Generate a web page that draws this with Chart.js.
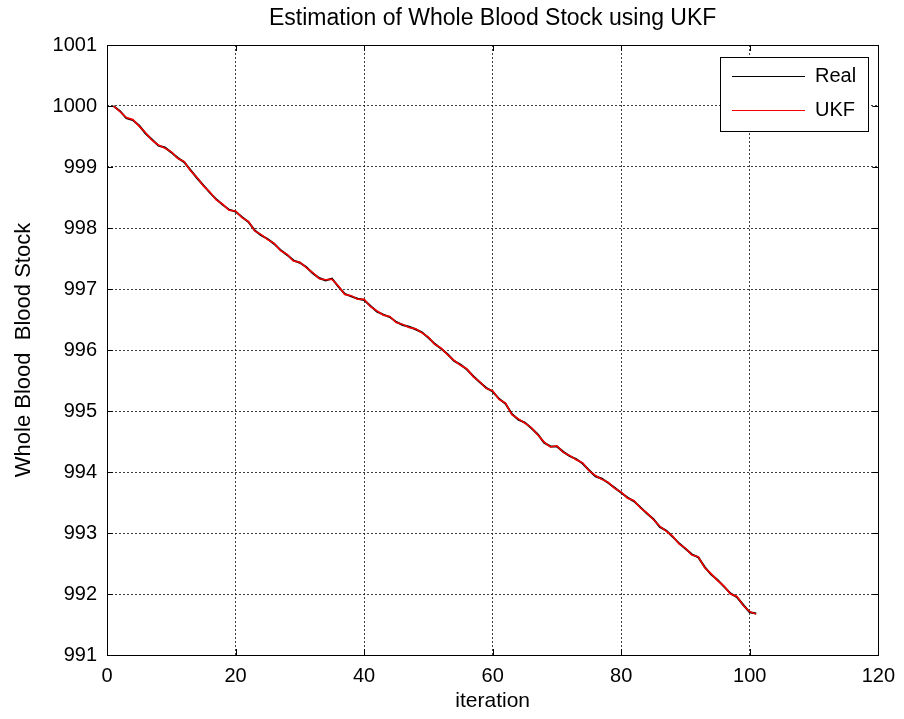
<!DOCTYPE html>
<html>
<head>
<meta charset="utf-8">
<script src="https://cdn.jsdelivr.net/npm/chart.js@4.4.1/dist/chart.umd.min.js"></script>
<style>
  html, body { margin: 0; padding: 0; background: #fff; }
  canvas { display: block; }
</style>
</head>
<body>
<canvas id="ukfchart" width="904" height="719"></canvas>
<script>
// iteration index
const iterations = [1,2,3,4,5,6,7,8,9,10,11,12,13,14,15,16,17,18,19,20,
  21,22,23,24,25,26,27,28,29,30,31,32,33,34,35,36,37,38,39,40,
  41,42,43,44,45,46,47,48,49,50,51,52,53,54,55,56,57,58,59,60,
  61,62,63,64,65,66,67,68,69,70,71,72,73,74,75,76,77,78,79,80,
  81,82,83,84,85,86,87,88,89,90,91,92,93,94,95,96,97,98,99,100,101];

// real stock
const realStock = [1000.00,999.92,999.80,999.77,999.68,999.55,999.45,999.35,999.32,999.24,
  999.15,999.08,998.95,998.82,998.70,998.58,998.47,998.38,998.30,998.27,
  998.18,998.10,997.96,997.88,997.82,997.74,997.64,997.56,997.47,997.43,
  997.36,997.26,997.18,997.14,997.17,997.04,996.92,996.88,996.84,996.82,
  996.72,996.63,996.58,996.54,996.46,996.41,996.38,996.34,996.29,996.20,
  996.10,996.02,995.93,995.82,995.76,995.68,995.57,995.47,995.38,995.32,
  995.20,995.12,994.95,994.86,994.81,994.72,994.62,994.48,994.42,994.42,
  994.33,994.26,994.21,994.14,994.03,993.93,993.89,993.82,993.74,993.66,
  993.58,993.52,993.42,993.32,993.23,993.10,993.04,992.94,992.83,992.74,
  992.65,992.60,992.44,992.32,992.23,992.12,992.01,991.95,991.82,991.70,991.68];

// UKF estimate
const ukfStock = [1000.00,999.91,999.81,999.78,999.67,999.56,999.44,999.36,999.31,999.25,
  999.14,999.09,998.94,998.83,998.69,998.59,998.46,998.39,998.29,998.28,
  998.17,998.11,997.95,997.89,997.81,997.75,997.63,997.57,997.46,997.44,
  997.35,997.27,997.17,997.15,997.16,997.05,996.91,996.89,996.83,996.83,
  996.71,996.64,996.57,996.55,996.45,996.42,996.37,996.35,996.28,996.21,
  996.09,996.03,995.92,995.83,995.75,995.69,995.56,995.48,995.37,995.33,
  995.19,995.13,994.94,994.87,994.80,994.73,994.61,994.49,994.41,994.43,
  994.32,994.27,994.20,994.15,994.02,993.94,993.88,993.83,993.73,993.67,
  993.57,993.53,993.41,993.33,993.22,993.11,993.03,992.95,992.82,992.75,
  992.64,992.61,992.43,992.33,992.22,992.13,992.00,991.96,991.81,991.71,991.67];

const xTicks = [0,20,40,60,80,100,120];
const yTicks = [991,992,993,994,995,996,997,998,999,1000,1001];

const FONT = "'Liberation Sans', Arial, Helvetica, sans-serif";
const TITLE = 'Estimation of Whole Blood Stock using UKF';

function pts(ys) {
  return iterations.map((x, i) => ({x: x, y: ys[i]}));
}

// box frame, inward tick marks, title and legend like matlab
const matlabBox = {
  id: 'matlabBox',
  afterDraw(chart) {
    const ctx = chart.ctx;
    const a = chart.chartArea;
    const xs = chart.scales.x, ys = chart.scales.y;
    const tl = 6;
    ctx.save();
    ctx.strokeStyle = '#000';
    ctx.lineWidth = 1;
    ctx.setLineDash([]);
    ctx.strokeRect(Math.round(a.left) + 0.5, Math.round(a.top) + 0.5,
      Math.round(a.right - a.left), Math.round(a.bottom - a.top));
    ctx.beginPath();
    xTicks.forEach(v => {
      const px = Math.round(xs.getPixelForValue(v)) + 0.5;
      ctx.moveTo(px, a.bottom); ctx.lineTo(px, a.bottom - tl);
      ctx.moveTo(px, a.top); ctx.lineTo(px, a.top + tl);
    });
    yTicks.forEach(v => {
      const py = Math.round(ys.getPixelForValue(v)) + 0.5;
      ctx.moveTo(a.left, py); ctx.lineTo(a.left + tl, py);
      ctx.moveTo(a.right, py); ctx.lineTo(a.right - tl, py);
    });
    ctx.stroke();

    // title centred over the axes
    ctx.fillStyle = '#000';
    ctx.font = '23px ' + FONT;
    ctx.textAlign = 'center';
    ctx.textBaseline = 'middle';
    ctx.fillText(TITLE, (a.left + a.right) / 2, 19);

    // legend
    const lx = 720, ly = 57, lw = 148, lh = 74;
    ctx.fillStyle = '#fff';
    ctx.fillRect(lx, ly, lw, lh);
    ctx.strokeRect(lx + 0.5, ly + 0.5, lw, lh);
    const items = [['Real', '#000000', 76], ['UKF', '#ff0000', 110]];
    ctx.font = '20px ' + FONT;
    ctx.textAlign = 'left';
    items.forEach(it => {
      ctx.strokeStyle = it[1];
      ctx.beginPath();
      ctx.moveTo(732, it[2] + 0.5);
      ctx.lineTo(805, it[2] + 0.5);
      ctx.stroke();
      ctx.fillStyle = '#000';
      ctx.fillText(it[0], 815, it[2]);
    });
    ctx.restore();
  }
};

new Chart(document.getElementById('ukfchart'), {
  type: 'line',
  data: {
    datasets: [
      {
        label: 'Real',
        data: pts(realStock),
        borderColor: '#000000',
        borderWidth: 2,
        pointRadius: 0,
        fill: false,
        order: 2
      },
      {
        label: 'UKF',
        data: pts(ukfStock),
        borderColor: '#ff0000',
        borderWidth: 1.5,
        pointRadius: 0,
        fill: false,
        order: 1
      }
    ]
  },
  options: {
    responsive: false,
    animation: false,
    devicePixelRatio: 1,
    layout: { padding: { left: 0, right: 24, top: 45, bottom: 0 } },
    plugins: {
      legend: { display: false },
      tooltip: { enabled: false },
      title: { display: false }
    },
    scales: {
      x: {
        type: 'linear',
        min: 0,
        max: 120,
        afterFit: s => { s.height = 64; },
        ticks: {
          stepSize: 20,
          color: '#000',
          font: { family: FONT, size: 20 },
          padding: 9,
          maxRotation: 0,
          callback: v => String(v)
        },
        grid: { color: 'rgba(0,0,0,0.75)', lineWidth: 1, drawTicks: false },
        border: { display: false, dash: [2, 2] },
        title: {
          display: true,
          text: 'iteration',
          color: '#000',
          font: { family: FONT, size: 21 },
          padding: { top: 0, bottom: 5 }
        }
      },
      y: {
        min: 991,
        max: 1001,
        afterFit: s => { s.width = 107; },
        ticks: {
          stepSize: 1,
          color: '#000',
          font: { family: FONT, size: 20 },
          padding: 10,
          callback: v => String(v)
        },
        grid: { color: 'rgba(0,0,0,0.75)', lineWidth: 1, drawTicks: false },
        border: { display: false, dash: [2, 2] },
        title: {
          display: true,
          text: 'Whole Blood  Blood Stock',
          color: '#000',
          font: { family: FONT, size: 22 },
          padding: { top: 11, bottom: 0 }
        }
      }
    }
  },
  plugins: [matlabBox]
});
</script>
</body>
</html>
